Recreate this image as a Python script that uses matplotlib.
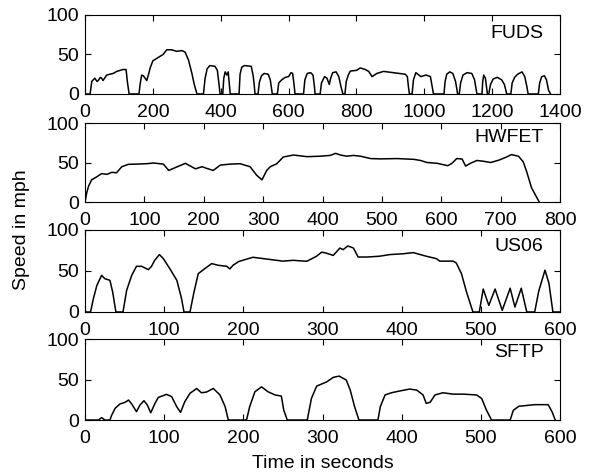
import matplotlib
matplotlib.use("Agg")
import matplotlib.pyplot as plt

plt.rcParams["font.family"] = ["Liberation Sans", "DejaVu Sans"]

# FUDS cycle (seconds, mph)
fuds_t = [0, 15, 20, 29, 35, 39, 45, 49, 53, 64, 83, 93, 112, 118, 121, 125, 130,
          159, 163, 167, 172, 182, 188, 192, 200, 215, 230, 241, 255, 270, 285, 295, 305, 315, 322, 330,
          349, 354, 360, 368, 383, 390, 395, 398,
          406, 409, 413, 418, 422, 426, 428,
          454, 457, 462, 470, 490, 496, 499, 501,
          510, 514, 520, 528, 540, 546, 550, 552,
          567, 571, 580, 590, 600, 607, 612, 616, 619,
          644, 648, 655, 665, 672, 676, 678,
          693, 697, 706, 713, 720, 724, 730, 740, 748, 754, 760,
          766, 770, 776, 782, 801, 811, 826, 836, 846, 860, 880, 909, 944, 950, 953, 956,
          964, 968, 975, 990, 1005, 1018, 1023, 1027,
          1058, 1061, 1066, 1075, 1084, 1092, 1096, 1098,
          1103, 1107, 1114, 1126, 1140, 1148, 1152, 1155,
          1170, 1172, 1175, 1180, 1183, 1186,
          1190, 1195, 1203, 1215, 1228, 1236, 1240, 1243,
          1255, 1259, 1266, 1275, 1288, 1296, 1302, 1306,
          1336, 1340, 1346, 1354, 1360, 1366, 1372]
fuds_v = [0, 0, 16, 20, 16, 17, 21, 20, 17, 24, 26, 28.5, 31, 31, 31, 15, 0,
          0, 14, 24, 23, 17, 26, 33, 42, 46, 50, 56, 56, 54, 55, 53, 43, 26, 12, 0,
          0, 20, 32, 36, 35, 30, 12, 0,
          0, 20, 28, 24, 28, 10, 0,
          0, 25, 34, 36, 35, 22, 10, 0,
          0, 15, 23, 26, 25, 18, 6, 0,
          0, 14, 18, 21, 22, 27, 26, 12, 0,
          0, 18, 26, 27, 24, 10, 0,
          0, 14, 22, 20, 12, 20, 27, 28, 22, 10, 0,
          0, 16, 24, 29, 30, 33, 31, 28.6, 22, 26, 28.6, 27, 25, 22, 10, 0,
          0, 18, 27, 22, 24, 22, 10, 0,
          0, 15, 25, 28, 26, 16, 6, 0,
          0, 14, 24, 27, 26, 18, 8, 0,
          0, 15, 24, 20, 10, 0,
          0, 12, 19, 21, 18, 12, 5, 0,
          0, 14, 21, 25, 28, 22, 10, 0,
          0, 14, 22, 23, 18, 5, 0]

# HWFET cycle
hwfet_t = [0, 3, 6, 11, 20, 28, 37, 45, 53, 62, 73, 87, 104, 115, 132, 141, 149, 166, 169,
           186, 197, 205, 216, 228, 245, 261, 278, 289, 298, 306, 312, 323, 334, 351, 374, 396,
           413, 422, 430, 441, 452, 464, 481, 497, 526, 554, 565, 576, 593, 605, 611, 618, 626,
           635, 641, 649, 660, 672, 683, 697, 710, 718, 730, 738, 744, 752, 765]
hwfet_v = [0, 12, 20, 28, 32, 36, 35, 37.6, 37, 44.7, 47.7, 48, 48.5, 49.4, 48, 40, 42.6, 48, 49,
           42, 44.7, 42.6, 40, 46.8, 48, 48.5, 44.7, 34, 28, 40, 44.7, 48.5, 57, 59.5, 57.4, 58,
           59, 61.6, 59.5, 58, 59, 58, 55, 54.6, 55, 54, 52.6, 50, 49, 47, 46, 49, 55,
           54.5, 45.5, 49, 52.6, 51.5, 50, 53, 57, 60, 58, 51, 38, 18, 0]

# US06 cycle
us06_t = [0, 7, 10.5, 15, 21, 25, 31.5, 35, 39,
          48, 52.6, 59, 65, 71.5, 80, 84, 88, 94, 99, 107, 116, 122, 125,
          132.6, 137.6, 143, 151.5, 160, 168, 179, 183, 187, 194, 202, 212, 234, 250,
          263, 280, 292.5, 299, 305, 313.5, 322, 326, 332, 339, 345, 356, 372, 385, 402,
          414.5, 431, 444, 448, 465, 469, 475.5, 482, 490,
          498, 503, 510, 518, 527, 537, 543, 551, 558,
          568, 573, 581, 586, 591, 600]
us06_v = [0, 0, 16, 32.5, 44.7, 40.6, 38.6, 24, 0,
          0, 26.5, 44.7, 55.7, 55.7, 51.6, 55.7, 63, 70, 65, 53, 38.6, 16, 0,
          0, 24, 46.7, 53, 59, 57, 55.7, 52.5, 57, 61.5, 63.8, 66.7, 64, 62,
          63, 61.8, 68, 73, 71.7, 69, 78, 76, 80.5, 78, 67, 67, 68, 70, 71,
          72.4, 68, 65, 62, 62, 59.7, 46.7, 24, 0,
          0, 28, 8, 28, 2, 29, 6, 29, 0,
          0, 25, 51, 35, 0, 0]

# SFTP cycle
sftp_t = [0, 17, 21, 25, 31.5, 33.7, 38, 44, 50.5, 55, 59, 65, 69.4, 74.5, 78.7, 83, 88.4,
          92.6, 103, 109.4, 115.8, 120.7, 126, 132.6, 141, 147, 153.5, 162, 170.5, 177, 181,
          204, 208, 214.6, 223, 231, 240, 248, 251, 255.5,
          280.7, 286, 292.6, 305, 313.5, 321, 330, 335, 340.5, 346,
          370, 373, 379, 387, 397, 410, 419, 427, 431, 436, 442, 452, 465, 478, 494.5, 501, 507, 513.5,
          537, 541, 548, 568, 585, 590, 594]
sftp_v = [0, 0, 3, 0, 0, 6, 14.4, 19.8, 21.8, 24.7, 19.8, 10.3, 18.5, 23.9, 18.5, 9, 20.6,
          28, 31.7, 29, 16.5, 9.5, 22.6, 33, 39, 33.7, 34.6, 39, 31, 16.5, 0,
          0, 16.5, 35, 41, 35, 31, 29.6, 12.3, 0,
          0, 26.7, 42, 47, 52.7, 54.3, 49.4, 37, 16.5, 0,
          0, 16.5, 31, 33.7, 35.8, 38.3, 37, 31, 20.6, 22, 31, 33.7, 32, 32, 31, 26.7, 12.3, 0,
          0, 12, 17, 19, 19, 10, 0]

names = ["FUDS", "HWFET", "US06", "SFTP"]
series = [(fuds_t, fuds_v), (hwfet_t, hwfet_v), (us06_t, us06_v), (sftp_t, sftp_v)]
xmaxes = [1400, 800, 600, 600]
xsteps = [200, 100, 100, 100]

# axes boxes in figure fractions (left, bottom, width, height)
boxes = [(0.1436, 0.8013, 0.8024, 0.167),
         (0.1436, 0.5729, 0.8024, 0.167),
         (0.1436, 0.3404, 0.8024, 0.1734),
         (0.1436, 0.1120, 0.8024, 0.171)]
label_y = [0.76, 0.82, 0.80, 0.84]

fig = plt.figure(figsize=(5.92, 4.73), dpi=100)
for i in range(4):
    ax = fig.add_axes(boxes[i])
    t, v = series[i]
    ax.plot(t, v, color="black", lw=1.1)
    ax.set_xlim(0, xmaxes[i])
    ax.set_ylim(0, 100)
    ax.set_xticks(range(0, xmaxes[i] + 1, xsteps[i]))
    ax.set_yticks([0, 50, 100])
    ax.tick_params(direction="in", top=True, right=True, length=4, width=0.8,
                   labelsize=14, pad=4)
    ax.tick_params(axis="x", pad=7)
    for s in ax.spines.values():
        s.set_linewidth(0.8)
    ax.text(0.965, label_y[i], names[i], transform=ax.transAxes, ha="right", va="center",
            fontsize=14)
    if i == 3:
        ax.set_xlabel("Time in seconds", fontsize=14, labelpad=6)

fig.text(0.037, 0.514, "Speed in mph", rotation=90, ha="center", va="center", fontsize=14)
plt.savefig("out.png", dpi=100)
